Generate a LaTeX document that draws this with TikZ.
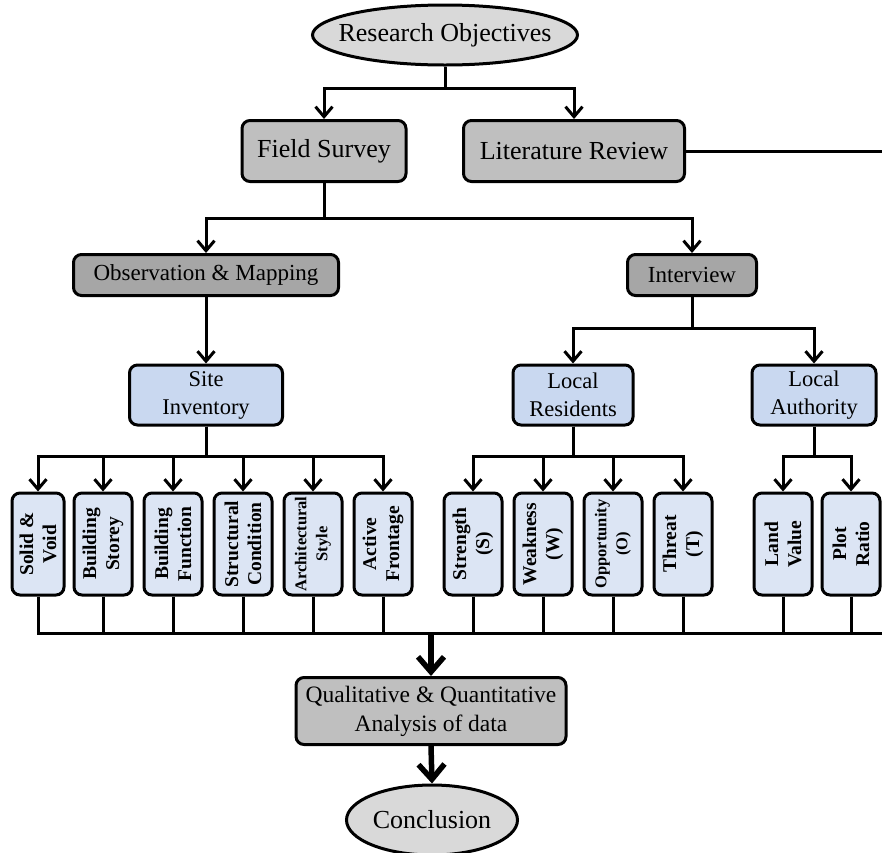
\documentclass[tikz,border=0pt]{standalone}
\usepackage{fontspec}
\setmainfont{Liberation Serif}
\usetikzlibrary{arrows.meta, positioning, shapes.geometric}
\definecolor{ovalgray}{HTML}{D9D9D9}
\definecolor{boxgray}{HTML}{BFBFBF}
\definecolor{methgray}{HTML}{A6A6A6}
\definecolor{midblue}{HTML}{C9D8F0}
\definecolor{paleblue}{HTML}{DCE5F4}
\tikzset{
  boxbase/.style={draw, line width=3pt, rounded corners=8pt, align=center, inner sep=2pt},
  oval/.style={ellipse, draw, line width=3pt, fill=ovalgray, inner sep=0pt, font=\fontsize{26}{30}\selectfont},
  graybox/.style={boxbase, fill=boxgray, font=\fontsize{26}{30}\selectfont},
  methbox/.style={boxbase, fill=methgray, font=\fontsize{23}{27}\selectfont},
  bluebox/.style={boxbase, fill=midblue, minimum height=60pt, font=\fontsize{22.5}{28}\selectfont},
  itembox/.style={boxbase, fill=paleblue, rotate=90, minimum width=102pt, minimum height=58pt, font=\bfseries\fontsize{19.5}{23}\selectfont},
  smalltext/.style={font=\bfseries\fontsize{16.5}{21}\selectfont},
  link/.style={line width=3pt},
  arr/.style={link, -{Straight Barb[length=10pt, width=17pt]}},
  bigarr/.style={line width=5.5pt, -{Straight Barb[length=15pt, width=26pt]}}
}
\begin{document}
\begin{tikzpicture}[x=1pt, y=1pt]
\useasboundingbox (0,0) rectangle (882,-852);
\node (RO) [oval, inner xsep=-13pt, minimum width=265pt, minimum height=60pt] at (445,-35) {Research Objectives};
\node (FS) [graybox, minimum width=164pt, minimum height=61pt] at (324,-151) {Field Survey};
\node (LR) [graybox, minimum width=221pt, minimum height=61pt] at (574,-151) {Literature Review};
\node (OM) [methbox, minimum width=265pt, minimum height=41pt] at (206,-275) {Observation \& Mapping};
\node (IV) [methbox, minimum width=129pt, minimum height=41pt] at (692,-275) {Interview};
\node (SI) [bluebox, minimum width=153pt] at (206,-395) {Site\\Inventory};
\node (LRs) [bluebox, minimum width=120pt] at (573,-395) {Local\\Residents};
\node (LA) [bluebox, minimum width=124pt] at (814,-395) {Local\\Authority};
% rotated boxes: east is the top, west the bottom
\node (SV) [itembox, minimum height=52pt] at (38,-544) {Solid \&\\Void};
\node (BS) [itembox] at (103,-544) {Building\\Storey};
\node (BF) [itembox] at (173,-544) {Building\\Function};
\node (SC) [itembox] at (243,-544) {Structural\\Condition};
\node (AS) [itembox, smalltext] at (313,-544) {Architectural\\Style};
\node (AF) [itembox] at (383,-544) {Active\\Frontage};
\node (ST) [itembox] at (473,-544) {Strength\\(S)};
\node (WK) [itembox] at (543,-544) {Weakness\\(W)};
\node (OP) [itembox, smalltext] at (613,-544) {Opportunity\\(O)};
\node (TH) [itembox] at (683,-544) {Threat\\(T)};
\node (LV) [itembox] at (783,-544) {Land\\Value};
\node (PR) [itembox] at (851,-544) {Plot\\Ratio};
\node (QA) [graybox, font=\fontsize{23.5}{29}\selectfont, minimum width=270pt, minimum height=67pt] at (431,-711) {Qualitative \& Quantitative\\Analysis of data};
\node (CN) [oval, minimum width=171pt, minimum height=70pt] at (432,-820) {Conclusion};
\coordinate (lrEnd) at (882,-151);
\coordinate (busEnd) at (882,-633);

\draw[arr] (RO.south) -- ++(0,-22) -| (FS.north);
\draw[arr] (RO.south) -- ++(0,-22) -| (LR.north);
\draw[link] (LR.east) -- (lrEnd);
\draw[arr] (FS.south) -- ++(0,-35) -| (OM.north);
\draw[arr] (FS.south) -- ++(0,-35) -| (IV.north);
\draw[arr] (OM.south) -- (SI.north);
\draw[arr] (IV.south) -- ++(0,-31) -| (LRs.north);
\draw[arr] (IV.south) -- ++(0,-31) -| (LA.north);
\draw[arr] (SI.south) -- ++(0,-30) -| (SV.east);
\draw[arr] (SI.south) -- ++(0,-30) -| (BS.east);
\draw[arr] (SI.south) -- ++(0,-30) -| (BF.east);
\draw[arr] (SI.south) -- ++(0,-30) -| (SC.east);
\draw[arr] (SI.south) -- ++(0,-30) -| (AS.east);
\draw[arr] (SI.south) -- ++(0,-30) -| (AF.east);
\draw[arr] (LRs.south) -- ++(0,-30) -| (ST.east);
\draw[arr] (LRs.south) -- ++(0,-30) -| (WK.east);
\draw[arr] (LRs.south) -- ++(0,-30) -| (OP.east);
\draw[arr] (LRs.south) -- ++(0,-30) -| (TH.east);
\draw[arr] (LA.south) -- ++(0,-30) -| (LV.east);
\draw[arr] (LA.south) -- ++(0,-30) -| (PR.east);
% collecting line
\draw[link] (SV.west) |- (busEnd);
\draw[link] (BS.west) -- (BS.west |- busEnd);
\draw[link] (BF.west) -- (BF.west |- busEnd);
\draw[link] (SC.west) -- (SC.west |- busEnd);
\draw[link] (AS.west) -- (AS.west |- busEnd);
\draw[link] (AF.west) -- (AF.west |- busEnd);
\draw[link] (ST.west) -- (ST.west |- busEnd);
\draw[link] (WK.west) -- (WK.west |- busEnd);
\draw[link] (OP.west) -- (OP.west |- busEnd);
\draw[link] (TH.west) -- (TH.west |- busEnd);
\draw[link] (LV.west) -- (LV.west |- busEnd);
\draw[link] (PR.west) -- (PR.west |- busEnd);
\draw[bigarr] (QA.north |- busEnd) -- (QA.north);
\draw[bigarr] (QA.south) -- (CN.north);
\end{tikzpicture}
\end{document}
